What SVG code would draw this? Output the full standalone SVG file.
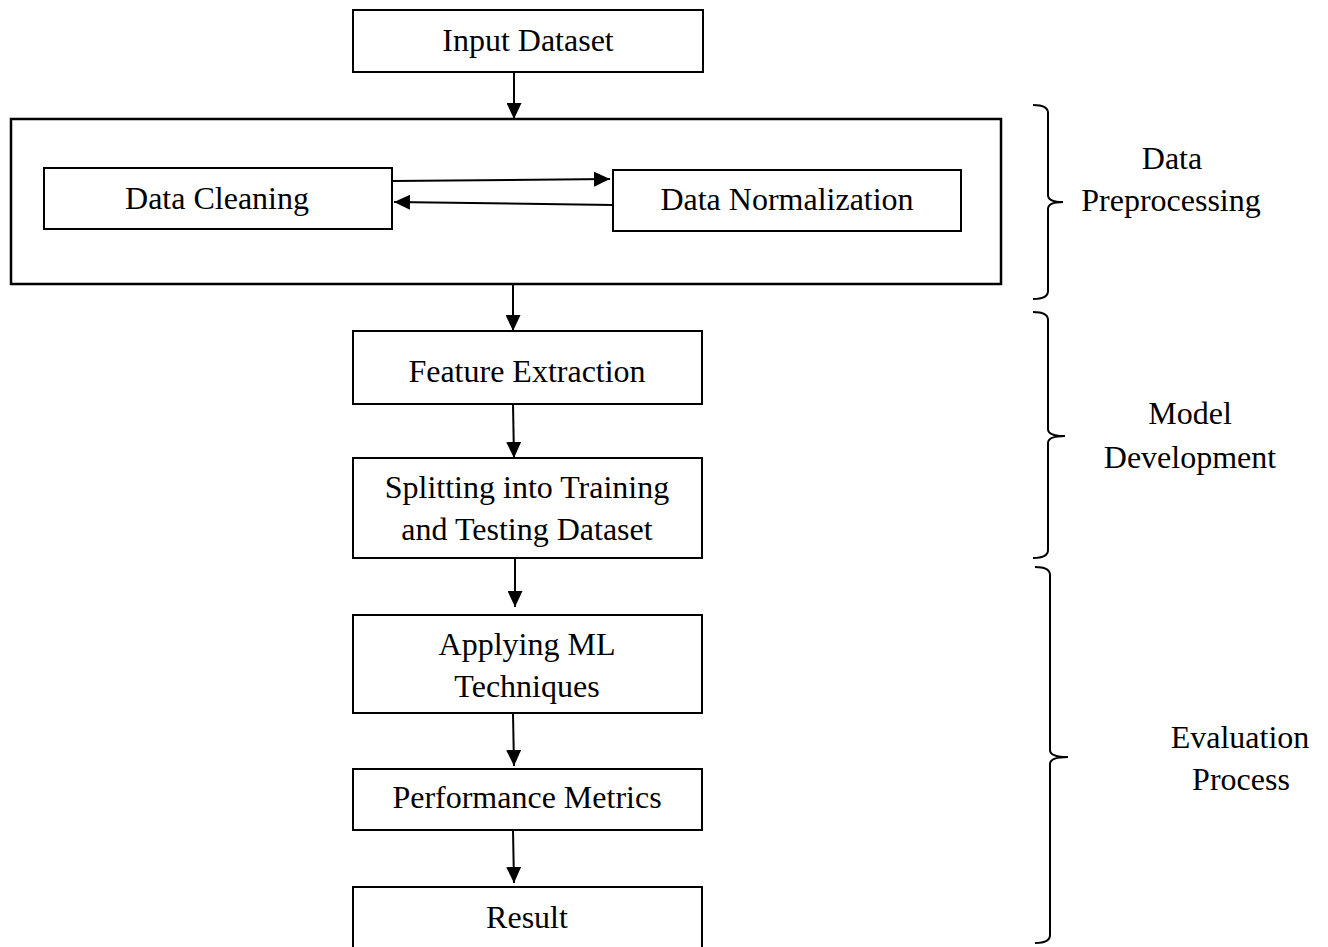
<svg xmlns="http://www.w3.org/2000/svg" width="1328" height="947" viewBox="0 0 1328 947">
<style>
.box{fill:#fff;stroke:#000;stroke-width:2}
.big{fill:none;stroke:#000;stroke-width:2.5}
.t{font-family:"Liberation Serif","Times New Roman",serif;font-size:32px;fill:#000;text-anchor:middle}
.c{stroke:#000;stroke-width:2;fill:none}
.br{stroke:#000;stroke-width:2;fill:none}
</style>
<defs>
<marker id="ah" markerUnits="userSpaceOnUse" markerWidth="16" markerHeight="15" refX="16" refY="7.5" orient="auto">
<path d="M0,0 L16,7.5 L0,15 z" fill="#000"/>
</marker>
</defs>
<rect width="1328" height="947" fill="#fff"/>
<g id="input"><rect class="box" x="353" y="10" width="350" height="62"/><text class="t" x="528" y="51">Input Dataset</text></g>
<g id="preprocessing"><rect class="big" x="11" y="119" width="990" height="165"/></g>
<g id="cleaning"><rect class="box" x="44" y="168" width="348" height="61"/><text class="t" x="217" y="209">Data Cleaning</text></g>
<g id="normalization"><rect class="box" x="613" y="170" width="348" height="61"/><text class="t" x="787" y="210">Data Normalization</text></g>
<g id="feature"><rect class="box" x="353" y="331" width="349" height="73"/><text class="t" x="527" y="382">Feature Extraction</text></g>
<g id="split"><rect class="box" x="353" y="458" width="349" height="100"/><text class="t" x="527" y="498">Splitting into Training</text><text class="t" x="527" y="540">and Testing Dataset</text></g>
<g id="apply"><rect class="box" x="353" y="615" width="349" height="98"/><text class="t" x="527" y="655">Applying ML</text><text class="t" x="527" y="697">Techniques</text></g>
<g id="perf"><rect class="box" x="353" y="769" width="349" height="61"/><text class="t" x="527" y="808">Performance Metrics</text></g>
<g id="result"><rect class="box" x="353" y="887" width="349" height="70"/><text class="t" x="527" y="928">Result</text></g>
<g id="connectors">
<line class="c" x1="514" y1="72" x2="514" y2="119" marker-end="url(#ah)"/>
<line class="c" x1="392" y1="181" x2="610" y2="179" marker-end="url(#ah)"/>
<line class="c" x1="613" y1="205" x2="394" y2="202" marker-end="url(#ah)"/>
<line class="c" x1="513" y1="284" x2="513" y2="331" marker-end="url(#ah)"/>
<line class="c" x1="513" y1="404" x2="514" y2="458" marker-end="url(#ah)"/>
<line class="c" x1="515" y1="558" x2="515" y2="607" marker-end="url(#ah)"/>
<line class="c" x1="513" y1="713" x2="514" y2="766" marker-end="url(#ah)"/>
<line class="c" x1="513" y1="830" x2="514" y2="883" marker-end="url(#ah)"/>
</g>
<g id="brace-preprocessing">
<path class="br" d="M1033,105 Q1048,105 1048,113 L1048,195 Q1048,202 1063,202 Q1048,202 1048,209 L1048,291 Q1048,299 1033,299"/>
<text class="t" x="1172" y="169">Data</text><text class="t" x="1171" y="211">Preprocessing</text>
</g>
<g id="brace-model">
<path class="br" d="M1033,312 Q1048,312 1048,320 L1048,429 Q1048,436 1065,436 Q1048,436 1048,443 L1048,550 Q1048,558 1033,558"/>
<text class="t" x="1190" y="424">Model</text><text class="t" x="1190" y="468">Development</text>
</g>
<g id="brace-evaluation">
<path class="br" d="M1035,567 Q1050,567 1050,575 L1050,750 Q1050,757 1068,757 Q1050,757 1050,764 L1050,935 Q1050,943 1035,943"/>
<text class="t" x="1240" y="748">Evaluation</text><text class="t" x="1241" y="790">Process</text>
</g>
</svg>
